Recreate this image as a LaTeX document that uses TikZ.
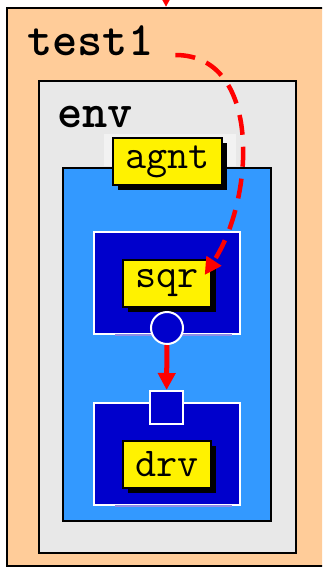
\documentclass[tikz,border=0pt]{standalone}
\usepackage{fontspec}
\usetikzlibrary{arrows.meta,shadows}
\definecolor{peach}{HTML}{FFCC99}
\definecolor{envgray}{HTML}{E8E8E8}
\definecolor{patchgray}{HTML}{F2F2F2}
\definecolor{agntblue}{HTML}{3399FF}
\definecolor{deepblue}{HTML}{0000CC}

\begin{document}
\begin{tikzpicture}[x=1pt, y=-1pt,
  box/.style={draw, line width=2pt, anchor=north west, inner sep=0pt},
  leaf/.style={box, draw=white, fill=deepblue, minimum width=146pt, minimum height=102pt},
  port/.style={draw=white, fill=deepblue, line width=2pt, inner sep=0pt},
  tag/.style={draw, line width=2pt, fill=yellow, inner xsep=12pt, minimum height=47pt,
    font=\fontsize{41}{44}\selectfont\ttfamily,
    drop shadow={shadow xshift=5pt, shadow yshift=-5pt, opacity=1, fill=black}},
  title/.style={anchor=base west, inner sep=0pt, font=\fontsize{48}{54}\selectfont\ttfamily\bfseries},
  flow/.style={red, line width=5pt, -{Triangle[length=17pt,width=17pt]}}]
  \useasboundingbox (0,0) rectangle (322,568);
  \clip (0,0) rectangle (322,568);

  % test1 and env
  \node[box, fill=peach, minimum width=340pt, minimum height=558pt] (tbox) at (6,7) {};
  \node[title] (t1) at (27,55) {test1};
  \node[box, fill=envgray, minimum width=257pt, minimum height=472pt] (ebox) at (38,80) {};
  \node[title] (env) at (57,127) {env};

  % agnt
  \node[box, fill=agntblue, minimum width=208pt, minimum height=353pt] (abox) at (62,167) {};
  \fill[patchgray] (104,134) rectangle (236,166);
  \node[tag] (agnt) at (167.5,161.5) {agnt};

  % sqr and drv
  \node[leaf] (sbox) at (93,231) {};
  \node[leaf] (dbox) at (93,402) {};
  \foreach \b in {sbox,dbox}
    \draw[line width=2pt, white!55!deepblue] ([xshift=22pt]\b.south west) -- ([xshift=-9pt]\b.south east);
  \node[tag] (sqr) at (167,283.5) {sqr};
  \node[tag] (drv) at (167,464) {drv};
  \node[port, circle, minimum size=32pt] (sport) at (167,328) {};
  \node[port, minimum size=33pt] (dport) at (166.5,407.5) {};

  % connections
  \coordinate (src) at (166,-14);
  \draw[flow] (src) -- (src |- tbox.north);
  \draw[flow] (sport) -- (dport);
  \draw[flow, line width=4.5pt, dash pattern=on 20pt off 12pt]
    ([xshift=22pt]t1.base east) .. controls +(87,0) and +(50,-76) ..
    ([xshift=-7pt,yshift=-16pt]sqr.north east);
\end{tikzpicture}
\end{document}
